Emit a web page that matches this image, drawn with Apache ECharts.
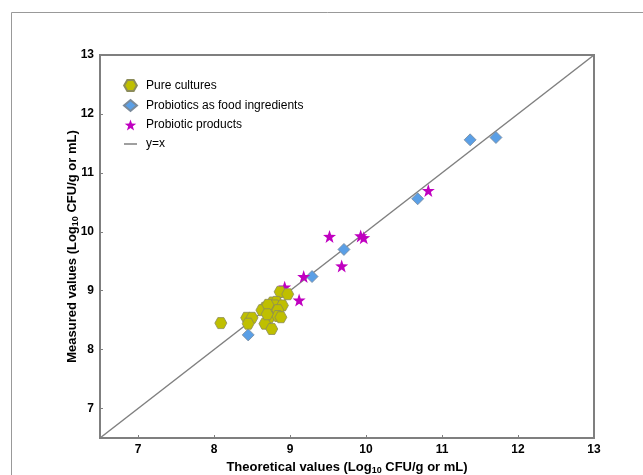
<!DOCTYPE html>
<html>
<head>
<meta charset="utf-8">
<script src="https://cdn.jsdelivr.net/npm/echarts@6/dist/echarts.min.js"></script>
<style>
  html, body { margin: 0; padding: 0; background: #fff; }
  #main { width: 643px; height: 475px; }
</style>
</head>
<body>
<div id="main"></div>
<script>
// ---- data (theoretical, measured) ----
var pureCultures = [
  [8.09, 8.45], [8.43, 8.54], [8.50, 8.54], [8.45, 8.44], [8.87, 8.98],
  [8.97, 8.94], [8.77, 8.80], [8.82, 8.81], [8.67, 8.71], [8.80, 8.75],
  [8.90, 8.75], [8.74, 8.67], [8.63, 8.67], [8.84, 8.67], [8.73, 8.55],
  [8.84, 8.57], [8.88, 8.55], [8.67, 8.44], [8.76, 8.35], [8.71, 8.76],
  [8.70, 8.60]
];
var foodIngredients = [
  [11.37, 11.56], [11.71, 11.60], [10.68, 10.56], [9.71, 9.70], [9.29, 9.24], [8.45, 8.25]
];
var probioticProducts = [
  [10.82, 10.70], [9.52, 9.92], [9.93, 9.93], [9.97, 9.90], [9.68, 9.42],
  [9.18, 9.24], [9.12, 8.84], [8.93, 9.06]
];
var identityLine = [[6.5, 6.5], [13, 13]];
var tickValues = [7, 8, 9, 10, 11, 12, 13];

var hexagon = 'path://M2,0 L1,1.732 L-1,1.732 L-2,0 L-1,-1.732 L1,-1.732 Z';
var star = 'path://M0,-10 L2.35,-3.24 L9.51,-3.09 L3.8,1.24 L5.88,8.09 L0,4 L-5.88,8.09 L-3.8,1.24 L-9.51,-3.09 L-2.35,-3.24 Z';
// thin bar with invisible corner points so the legend box does not stretch it
var lineIcon = 'path://M0,0 L0.01,0 L0,0.01 Z M0,4.8 L13,4.8 L13,6.2 L0,6.2 Z M0,11 L0.01,11 L0,10.99 Z';

var frameColor = '#7f7f7f';
var font = 'Liberation Sans, Arial';

var chart = echarts.init(document.getElementById('main'));

var axisCommon = {
  type: 'value',
  min: 6.5,
  max: 13,
  splitLine: { show: false },
  axisLine: { show: true, lineStyle: { color: frameColor, width: 2 } },
  axisTick: { show: true, inside: true, length: 3, customValues: tickValues, lineStyle: { color: frameColor } },
  axisLabel: {
    customValues: tickValues,
    color: '#000', fontWeight: 'bold', fontSize: 12, fontFamily: font, margin: 6
  },
  nameLocation: 'middle',
  nameTextStyle: {
    color: '#000', fontWeight: 'bold', fontSize: 13, fontFamily: font,
    rich: {
      sub: { fontSize: 9, fontWeight: 'bold', fontFamily: font, padding: [7, 0, 0, 0] }
    }
  }
};

var option = {
  animation: false,
  backgroundColor: '#fff',
  graphic: [{
    type: 'rect',
    shape: { x: 11.5, y: 12.5, width: 700, height: 500 },
    style: { fill: 'none', stroke: '#999', lineWidth: 1 },
    silent: true
  }],
  grid: {
    left: 100, top: 55, right: 49, bottom: 37,
    outerBoundsMode: 'none',
    containLabel: false,
    show: true, borderColor: frameColor, borderWidth: 2, backgroundColor: 'transparent'
  },
  legend: {
    orient: 'vertical',
    left: 123,
    top: 79,
    itemWidth: 13,
    itemHeight: 11,
    itemGap: 7,
    padding: 0,
    textStyle: { color: '#000', fontSize: 12, fontFamily: font, padding: [0, 0, 0, 4] },
    data: [
      { name: 'Pure cultures', icon: hexagon },
      { name: 'Probiotics as food ingredients', icon: 'diamond' },
      { name: 'Probiotic products', icon: star },
      { name: 'y=x', icon: lineIcon }
    ]
  },
  xAxis: Object.assign({}, axisCommon, {
    name: 'Theoretical values (Log{sub|10} CFU/g or mL)',
    nameGap: 21
  }),
  yAxis: Object.assign({}, axisCommon, {
    name: 'Measured values (Log{sub|10} CFU/g or mL)',
    nameMoveOverlap: false,
    nameGap: 20
  }),
  series: [
    {
      name: 'y=x',
      type: 'line',
      data: identityLine,
      symbol: 'none',
      z: 1,
      lineStyle: { color: '#808080', width: 1.5 },
      itemStyle: { color: '#808080' }
    },
    {
      name: 'Pure cultures',
      type: 'scatter',
      data: pureCultures,
      symbol: hexagon,
      symbolSize: [12, 11],
      z: 3,
      itemStyle: { color: '#bfbf00', borderColor: '#8c8c5a', borderWidth: 0.8, opacity: 1 }
    },
    {
      name: 'Probiotics as food ingredients',
      type: 'scatter',
      data: foodIngredients,
      symbol: 'diamond',
      symbolSize: 12,
      z: 2,
      itemStyle: { color: '#5a9fe6', borderColor: '#7a8a9a', borderWidth: 0.8, opacity: 1 }
    },
    {
      name: 'Probiotic products',
      type: 'scatter',
      data: probioticProducts,
      symbol: star,
      symbolSize: 13,
      z: 2,
      itemStyle: { color: '#c000c0', opacity: 1 }
    }
  ]
};

chart.setOption(option);
</script>
</body>
</html>
